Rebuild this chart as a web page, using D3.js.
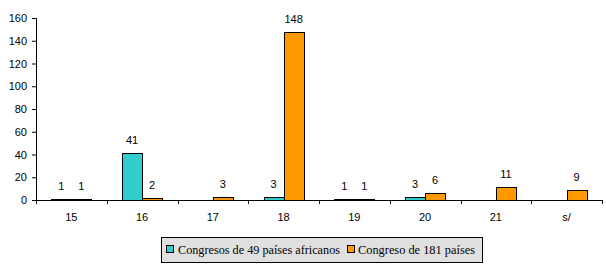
<!DOCTYPE html>
<html>
<head>
<meta charset="utf-8">
<script src="https://cdn.jsdelivr.net/npm/d3@7"></script>
<style>
body{margin:0;background:#fff;}
svg text{font-family:"Liberation Sans",Arial,sans-serif;}
</style>
</head>
<body>
<svg id="chart" width="606" height="270"></svg>
<script>
// data
var categories = ["15","16","17","18","19","20","21","s/"];
var africa = [1,41,0,3,1,3,0,0];
var world = [1,2,3,148,1,6,11,9];
var seriesNames = ["Congresos de 49 países africanos","Congreso de 181 países"];
var colors = ["#33cccc","#ff9900"];
var yTicks = [0,20,40,60,80,100,120,140,160];

var chart = {};
chart.svg = d3.select("#chart");
chart.left = 36; chart.right = 602;
chart.top = 18; chart.bottom = 200;

var x = d3.scaleBand().domain(categories).range([chart.left, chart.right]);
var y = d3.scaleLinear().domain([0,160]).range([chart.bottom, chart.top]);
var barW = 20;

// y axis
var yAxis = chart.svg.append("g")
    .attr("transform","translate("+chart.left+",0)")
    .call(d3.axisLeft(y).tickValues(yTicks).tickSize(4).tickPadding(5));
yAxis.selectAll("text").attr("font-size",11).style("fill","#000");

// x axis
var xAxis = chart.svg.append("g")
    .attr("transform","translate(0,"+chart.bottom+")")
    .call(d3.axisBottom(x).tickSize(0).tickPadding(13));
xAxis.select(".domain").remove();
xAxis.selectAll("text").attr("font-size",11).style("fill","#000");
chart.svg.append("line")
    .attr("x1",chart.left).attr("x2",chart.right)
    .attr("y1",chart.bottom+0.5).attr("y2",chart.bottom+0.5)
    .attr("stroke","#000");
// tick marks between categories
var bounds = categories.map(function(c){return x(c);}).concat([chart.right]);
chart.svg.selectAll(".xt").data(bounds).enter().append("line")
    .attr("x1",function(d){return Math.round(d)+0.5;})
    .attr("x2",function(d){return Math.round(d)+0.5;})
    .attr("y1",chart.bottom).attr("y2",chart.bottom+4)
    .attr("stroke","#000");

// bars
[africa, world].forEach(function(vals, s){
    var g = chart.svg.append("g");
    categories.forEach(function(c,i){
        if(vals[i] <= 0) return;
        var cx = x(c) + x.bandwidth()/2;
        var x0 = cx - barW + s*barW;
        g.append("rect")
            .attr("x",Math.round(x0)+0.5)
            .attr("y",Math.round(y(vals[i]))+0.5)
            .attr("width",barW)
            .attr("height",Math.max(0,chart.bottom - Math.round(y(vals[i]))))
            .attr("fill",colors[s])
            .attr("stroke","#000")
            .attr("stroke-width",1);
        g.append("text")
            .attr("x",x0 + barW/2)
            .attr("y",y(vals[i]) - 9)
            .attr("text-anchor","middle")
            .attr("font-size",11)
            .text(vals[i]);
    });
});

// legend
var leg = chart.svg.append("g");
leg.append("rect")
    .attr("x",161.5).attr("y",237.5).attr("width",321).attr("height",25)
    .attr("fill","#e0e0e0").attr("stroke","#000");
var legItems = [{x:166, tx:178, w:162},{x:347, tx:358, w:117}];
legItems.forEach(function(d,i){
    leg.append("rect")
        .attr("x",d.x+0.5).attr("y",245.5).attr("width",7).attr("height",7)
        .attr("fill",colors[i]).attr("stroke","#000");
    leg.append("text")
        .attr("x",d.tx).attr("y",254)
        .attr("font-size",12.5)
        .attr("textLength",d.w)
        .attr("lengthAdjust","spacingAndGlyphs")
        .style("font-family","'Liberation Serif','DejaVu Serif',serif")
        .text(seriesNames[i]);
});
</script>
</body>
</html>
